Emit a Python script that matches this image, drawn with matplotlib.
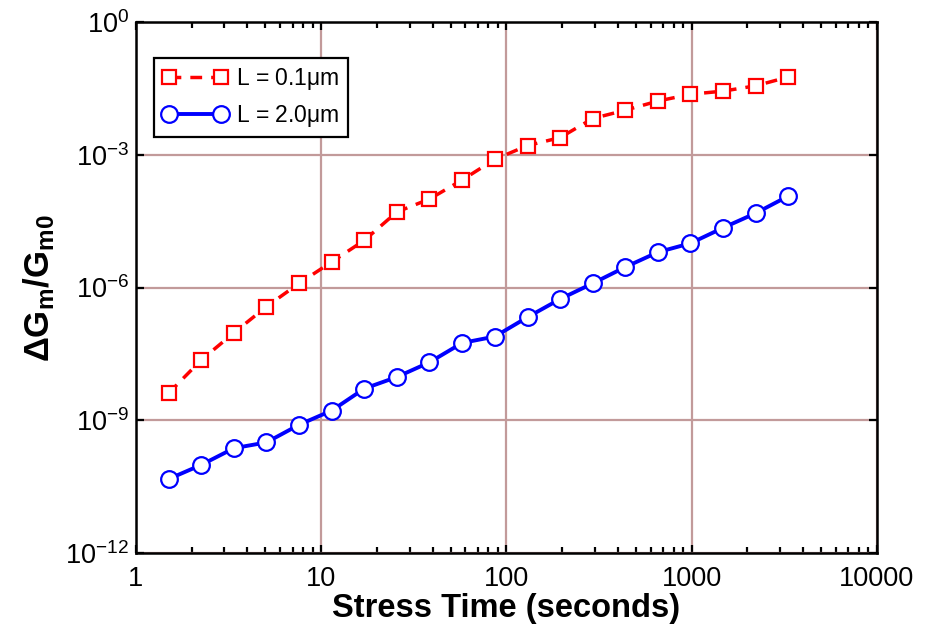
import matplotlib
matplotlib.use("Agg")
import matplotlib.pyplot as plt
from matplotlib.ticker import FixedLocator, FixedFormatter, LogLocator, NullLocator, NullFormatter

plt.rcParams['font.family'] = ['Liberation Sans', 'DejaVu Sans']
plt.rcParams['mathtext.fontset'] = 'custom'
plt.rcParams['mathtext.rm'] = 'Liberation Sans'
plt.rcParams['mathtext.it'] = 'Liberation Sans:italic'
plt.rcParams['mathtext.bf'] = 'Liberation Sans:bold'

# Stress time (s)
stress_time = [1.5, 2.25, 3.38, 5.06, 7.59, 11.4, 17.1, 25.6, 38.4, 57.7,
               86.5, 130, 195, 292, 438, 657, 985, 1478, 2217, 3325]

# Relative transconductance degradation
dgm_L01 = [4.1e-9, 2.3e-8, 9.5e-8, 3.7e-7, 1.24e-6, 3.8e-6, 1.17e-5, 5.1e-5,
           1.0e-4, 2.7e-4, 7.9e-4, 1.62e-3, 2.45e-3, 6.6e-3, 1.02e-2, 1.64e-2,
           2.34e-2, 2.75e-2, 3.63e-2, 5.75e-2]
dgm_L20 = [4.7e-11, 9.8e-11, 2.34e-10, 3.16e-10, 7.9e-10, 1.66e-9, 5.2e-9,
           9.5e-9, 2.04e-8, 5.6e-8, 7.8e-8, 2.14e-7, 5.5e-7, 1.24e-6, 2.9e-6,
           6.3e-6, 1.0e-5, 2.24e-5, 4.8e-5, 1.17e-4]

label_L01 = r'L = 0.1$\mathregular{\mu}$m'
label_L20 = r'L = 2.0$\mathregular{\mu}$m'

x_ticks = [1, 10, 100, 1000, 10000]
x_ticklabels = ['1', '10', '100', '1000', '10000']
y_ticks = [1e-12, 1e-9, 1e-6, 1e-3, 1e0]
y_ticklabels = [r'$\mathregular{10^{-12}}$', r'$\mathregular{10^{-9}}$',
                r'$\mathregular{10^{-6}}$', r'$\mathregular{10^{-3}}$',
                r'$\mathregular{10^{0}}$']

fig = plt.figure(figsize=(9.25, 6.31), dpi=100)
ax = fig.add_axes([0.147, 0.1236, 0.801, 0.8414])

grid_color = '#c29a9a'
ax.set_xscale('log')
ax.set_yscale('log')
ax.set_xlim(1, 10000)
ax.set_ylim(1e-12, 1)

ax.plot(stress_time, dgm_L01, color='#ff0000', lw=2.5, dashes=(3.4, 2.6),
        marker='s', markersize=10, markerfacecolor='white',
        markeredgecolor='#ff0000', markeredgewidth=1.6, label=label_L01,
        zorder=3)
ax.plot(stress_time, dgm_L20, color='#0000ff', lw=2.8, linestyle='-',
        marker='o', markersize=12, markerfacecolor='white',
        markeredgecolor='#0000ff', markeredgewidth=1.6, label=label_L20,
        zorder=3)

ax.xaxis.set_major_locator(FixedLocator(x_ticks))
ax.xaxis.set_major_formatter(FixedFormatter(x_ticklabels))
ax.xaxis.set_minor_locator(LogLocator(base=10, subs=range(2, 10)))
ax.xaxis.set_minor_formatter(NullFormatter())
ax.yaxis.set_major_locator(FixedLocator(y_ticks))
ax.yaxis.set_major_formatter(FixedFormatter(y_ticklabels))
ax.yaxis.set_minor_locator(NullLocator())

ax.grid(True, which='major', color=grid_color, lw=1.6, zorder=1)
ax.set_axisbelow(True)

ax.tick_params(which='both', direction='in', top=True, right=True,
               width=1.6, colors='black')
ax.tick_params(which='major', length=6, labelsize=19.5)
ax.tick_params(axis='x', which='major', pad=9)
ax.tick_params(axis='y', which='major', pad=5)
ax.tick_params(which='minor', length=4)
for s in ax.spines.values():
    s.set_linewidth(1.8)

ax.set_xlabel('Stress Time (seconds)', fontsize=23.5, fontweight='bold',
              labelpad=1)
ax.set_ylabel(r'$\mathbf{\Delta G_{m}/G_{m0}}$', fontsize=25, labelpad=6)

leg = ax.legend(loc='upper left', bbox_to_anchor=(0.024, 0.932),
                fontsize=16.5, frameon=True, fancybox=False,
                edgecolor='black', framealpha=1, borderpad=0.35,
                numpoints=2, handlelength=2.9, handletextpad=0.35,
                labelspacing=0.45, borderaxespad=0)
leg.get_frame().set_linewidth(1.6)

fig.savefig('out.png', dpi=100)
